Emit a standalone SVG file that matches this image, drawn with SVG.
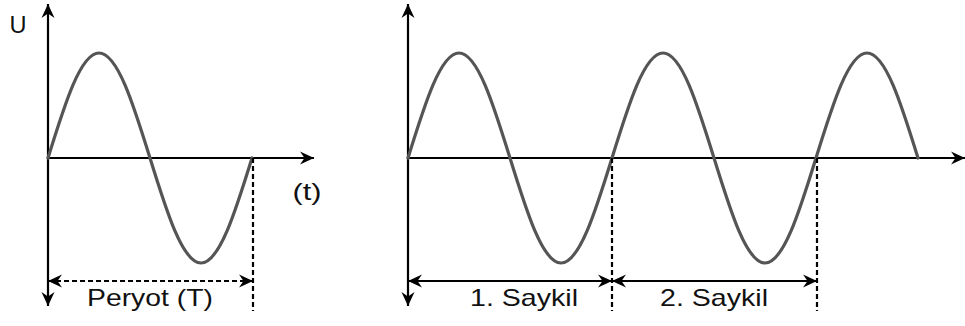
<svg xmlns="http://www.w3.org/2000/svg" width="965" height="326" viewBox="0 0 965 326">
<style>
.axis{stroke:#000;stroke-width:2.2;fill:none}
.wave{stroke:#555;stroke-width:3.2;fill:none;stroke-linecap:round}
.dash{stroke:#000;stroke-width:2.2;fill:none;stroke-dasharray:5,3}
.lbl{font-family:"Liberation Sans",Arial,sans-serif;font-size:24px;fill:#111}
</style>
<defs>
<marker id="ah" viewBox="-14 -7 14 14" refX="0" refY="0" markerWidth="14" markerHeight="14" markerUnits="userSpaceOnUse" orient="auto-start-reverse">
<path d="M0,0 L-14,-6.5 L-9.5,0 L-14,6.5 Z" fill="#000"/>
</marker>
</defs>
<rect width="965" height="326" fill="#fff"/>
<g id="left-graph">
<path class="axis" d="M48,306 L48,4" marker-start="url(#ah)" marker-end="url(#ah)"/>
<path class="axis" d="M48,158 L314,158" marker-end="url(#ah)"/>
<path class="wave" d="M48,158 c16.63,-53.79 32.55,-105 51,-105 c18.45,0 34.37,51.21 51,105 c16.63,53.79 32.55,105 51,105 c18.45,0 34.37,-51.21 51,-105"/>
<text class="lbl" x="18" y="33" text-anchor="middle" textLength="17" lengthAdjust="spacingAndGlyphs">U</text>
<text class="lbl" x="307" y="200" text-anchor="middle" textLength="29" lengthAdjust="spacingAndGlyphs">(t)</text>
</g>
<g id="right-graph">
<path class="axis" d="M408,306 L408,4" marker-start="url(#ah)" marker-end="url(#ah)"/>
<path class="axis" d="M408,158 L965,158" marker-end="url(#ah)"/>
<path class="wave" d="M408,158 c16.63,-53.79 32.55,-105 51,-105 c18.45,0 34.37,51.21 51,105 c16.63,53.79 32.55,105 51,105 c18.45,0 34.37,-51.21 51,-105 c16.63,-53.79 32.55,-105 51,-105 c18.45,0 34.37,51.21 51,105 c16.63,53.79 32.55,105 51,105 c18.45,0 34.37,-51.21 51,-105 c16.63,-53.79 32.55,-105 51,-105 c18.45,0 34.37,51.21 51,105"/>
</g>
<g id="connectors">
<path class="dash" d="M253,158 L253,311"/>
<path class="dash" d="M612,158 L612,311"/>
<path class="dash" d="M817,158 L817,311"/>
<path class="dash" d="M48,281 L253,281" marker-start="url(#ah)" marker-end="url(#ah)"/>
<path class="axis" d="M408,281 L612,281" marker-start="url(#ah)" marker-end="url(#ah)"/>
<path class="axis" d="M612,281 L817,281" marker-start="url(#ah)" marker-end="url(#ah)"/>
</g>
<g id="labels">
<text class="lbl" x="150" y="306" text-anchor="middle" textLength="126" lengthAdjust="spacingAndGlyphs">Peryot (T)</text>
<text class="lbl" x="524" y="306" text-anchor="middle" textLength="108" lengthAdjust="spacingAndGlyphs">1. Saykil</text>
<text class="lbl" x="714" y="306" text-anchor="middle" textLength="108" lengthAdjust="spacingAndGlyphs">2. Saykil</text>
</g>
</svg>
